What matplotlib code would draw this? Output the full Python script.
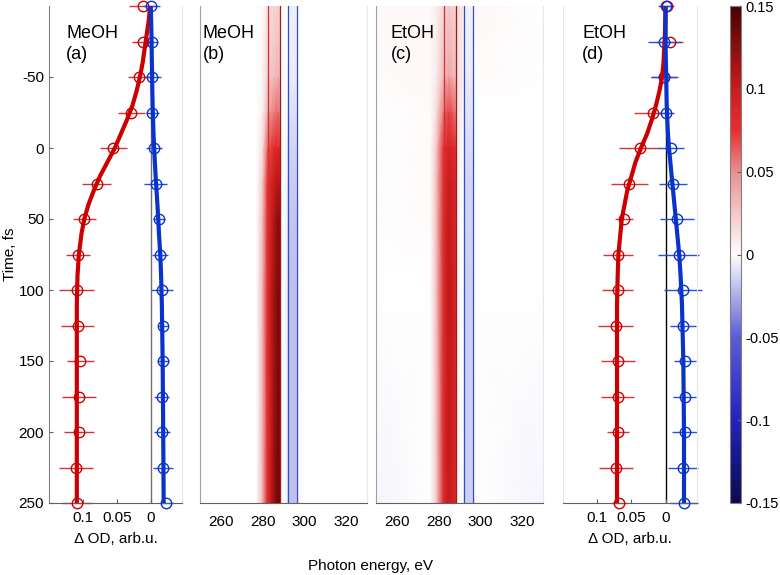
import matplotlib
matplotlib.use("Agg")
import matplotlib.pyplot as plt
import numpy as np
from matplotlib.colors import LinearSegmentedColormap

plt.rcParams['font.family'] = ['Liberation Sans', 'DejaVu Sans']
plt.rcParams['axes.unicode_minus'] = False

# delay times of the measured points, fs
t = [-100, -75, -50, -25, 0, 25, 50, 75, 100, 125, 150, 175, 200, 225, 250]

# MeOH (a): red = positive band, blue = negative band (plotted as -OD to the right)
a_red = [0.012, 0.012, 0.017, 0.029, 0.055, 0.080, 0.098, 0.107, 0.109, 0.108, 0.104, 0.106, 0.106, 0.110, 0.109]
a_red_err = [0.020, 0.015, 0.016, 0.020, 0.020, 0.022, 0.017, 0.018, 0.026, 0.024, 0.020, 0.025, 0.022, 0.025, 0.022]
a_blue = [-0.001, -0.002, -0.0025, -0.0025, -0.005, -0.007, -0.012, -0.014, -0.017, -0.018, -0.018, -0.016, -0.016, -0.018, -0.023]
a_blue_err = [0.013, 0.009, 0.012, 0.010, 0.012, 0.017, 0.009, 0.012, 0.016, 0.008, 0.009, 0.011, 0.012, 0.015, 0.010]

# EtOH (d)
d_red = [-0.002, -0.006, 0.002, 0.019, 0.038, 0.053, 0.061, 0.069, 0.070, 0.073, 0.069, 0.070, 0.069, 0.072, 0.068]
d_red_err = [0.010, 0.020, 0.020, 0.027, 0.030, 0.027, 0.013, 0.022, 0.023, 0.026, 0.025, 0.024, 0.016, 0.025, 0.012]
d_blue = [0.0, 0.002, 0.002, 0.0, -0.008, -0.011, -0.017, -0.019, -0.025, -0.026, -0.028, -0.028, -0.028, -0.025, -0.027]
d_blue_err = [0.011, 0.024, 0.019, 0.013, 0.019, 0.020, 0.025, 0.030, 0.028, 0.019, 0.016, 0.017, 0.018, 0.022, 0.020]

# fitted curves
fit_t = [-100, -90, -80, -70, -60, -50, -40, -30, -20, -10, 0, 10, 20, 30, 40, 50, 60, 75, 90, 110, 150, 200, 250]
a_red_fit = [0.001, 0.003, 0.006, 0.009, 0.012, 0.016, 0.021, 0.027, 0.035, 0.044, 0.053, 0.064, 0.075, 0.084,
             0.092, 0.098, 0.102, 0.106, 0.108, 0.109, 0.109, 0.109, 0.109]
a_blue_fit = [0.0, -0.0005, -0.001, -0.0013, -0.0016, -0.002, -0.0023, -0.0027, -0.0033, -0.004, -0.005, -0.006,
              -0.0072, -0.0085, -0.0098, -0.011, -0.012, -0.014, -0.0152, -0.0163, -0.0175, -0.0183, -0.019]
d_red_fit = [0.0, 0.0005, 0.001, 0.002, 0.003, 0.005, 0.009, 0.014, 0.020, 0.027, 0.036, 0.044, 0.050, 0.056,
             0.060, 0.064, 0.066, 0.069, 0.070, 0.071, 0.071, 0.071, 0.071]
d_blue_fit = [0.0, 0.0, 0.0, 0.0, -0.0005, -0.001, -0.0013, -0.0017, -0.0025, -0.0035, -0.005, -0.007, -0.009,
              -0.011, -0.013, -0.015, -0.017, -0.020, -0.022, -0.024, -0.026, -0.027, -0.027]

# transient spectra maps (b) MeOH and (c) EtOH, rows = times, columns = photon energy nodes
map_t = [-100, -50, -25, 0, 25, 50, 100, 250]
b_E = [250, 277, 280, 282.3, 283.5, 285.5, 287.3, 288.4, 289.2, 291.5, 292.5, 296.2, 297.5, 330]
b_map = [
    [0, 0, 0.002, 0.012, 0.015, 0.018, 0.020, 0.018, 0, 0, -0.005, -0.005, 0, 0],
    [0, 0, 0.004, 0.020, 0.025, 0.030, 0.035, 0.030, 0, 0, -0.007, -0.007, 0, 0],
    [0, 0, 0.008, 0.035, 0.045, 0.055, 0.060, 0.050, 0, -0.001, -0.010, -0.010, 0, 0],
    [0, 0, 0.016, 0.060, 0.070, 0.080, 0.085, 0.075, 0, -0.002, -0.013, -0.013, 0, 0],
    [0, 0, 0.025, 0.075, 0.085, 0.100, 0.110, 0.100, 0, -0.003, -0.016, -0.016, 0, 0],
    [0, 0, 0.030, 0.080, 0.090, 0.110, 0.125, 0.120, 0, -0.003, -0.018, -0.018, 0, 0],
    [0, 0, 0.035, 0.085, 0.095, 0.115, 0.130, 0.125, 0, -0.003, -0.019, -0.019, 0, 0],
    [0, 0, 0.035, 0.085, 0.095, 0.120, 0.135, 0.130, 0, -0.003, -0.019, -0.019, 0, 0],
]
c_E = [250, 276, 279, 282.3, 283.5, 285, 286.5, 288.3, 289, 291.8, 292.5, 296.2, 297.5, 330]
c_map = [
    [0.003, 0.003, 0.008, 0.018, 0.020, 0.022, 0.020, 0.020, 0.015, 0.010, -0.004, -0.004, 0.003, 0],
    [0.002, 0.003, 0.010, 0.030, 0.035, 0.040, 0.035, 0.030, 0.015, 0.008, -0.006, -0.006, 0.002, 0],
    [0, 0.002, 0.016, 0.055, 0.065, 0.070, 0.065, 0.055, 0.010, 0.005, -0.009, -0.009, 0, 0],
    [0, 0.002, 0.025, 0.075, 0.085, 0.090, 0.085, 0.075, 0.008, 0.003, -0.011, -0.011, 0, 0],
    [0, 0.002, 0.030, 0.080, 0.090, 0.100, 0.095, 0.085, 0.006, 0, -0.013, -0.013, 0, 0],
    [0, 0.002, 0.030, 0.085, 0.095, 0.100, 0.095, 0.085, 0.005, 0, -0.014, -0.014, 0, 0],
    [0, 0.001, 0.030, 0.085, 0.095, 0.105, 0.100, 0.085, 0.005, 0, -0.015, -0.015, 0, 0],
    [-0.003, 0, 0.025, 0.085, 0.095, 0.100, 0.095, 0.085, 0.005, 0, -0.015, -0.015, 0, -0.003],
]
# integration limits drawn as lines
red_lines = [282.4, 288.5]
blue_lines = [292.3, 296.4]

cb_ticks = [0.15, 0.1, 0.05, 0, -0.05, -0.1, -0.15]
cb_labels = ['0.15', '0.1', '0.05', '0', '-0.05', '-0.1', '-0.15']

cmap = LinearSegmentedColormap.from_list('bwr_m', [
    (0.0, '#0a0a50'), (1/6, '#2222c0'), (2/6, '#5c5cd6'), (0.5, '#ffffff'),
    (4/6, '#e89090'), (0.75, '#e63030'), (5/6, '#cc1c1c'), (1.0, '#4a0000')])

RED = '#cc0000'
BLUE = '#0a33cc'
EBAR_R = '#dd3030'
EBAR_B = '#2050dd'
FS = 11

fig = plt.figure(figsize=(7.8, 5.75), dpi=100)
W, H = 780, 575


def px_axes(x0, x1, y0=6, y1=503):
    return fig.add_axes([x0 / W, 1 - y1 / H, (x1 - x0) / W, (y1 - y0) / H])


def style(ax, left='#808080'):
    ax.spines['top'].set_visible(False)
    ax.spines['right'].set_color('#e8e8e8')
    ax.spines['left'].set_color(left)
    ax.spines['bottom'].set_color('#606060')
    ax.tick_params(direction='in', labelsize=FS, length=3, color='#606060')
    ax.tick_params(axis='x', pad=6)
    ax.set_ylim(250, -100)


def kinetics(ax, red, red_err, blue, blue_err, red_fit, blue_fit, zero_col):
    ax.axvline(0, color=zero_col, lw=1.0, zorder=1)
    ax.errorbar(red, t, xerr=red_err, fmt='none', ecolor=EBAR_R, elinewidth=1.0, capsize=0, clip_on=False, zorder=2)
    ax.errorbar(blue, t, xerr=blue_err, fmt='none', ecolor=EBAR_B, elinewidth=1.0, capsize=0, clip_on=False, zorder=2)
    ax.plot(red, t, 'o', mfc='none', mec=RED, ms=7.5, mew=1.0, clip_on=False, zorder=3)
    ax.plot(blue, t, 'o', mfc='none', mec=BLUE, ms=7.5, mew=1.0, clip_on=False, zorder=3)
    ax.plot(red_fit, fit_t, color=RED, lw=3.0, solid_capstyle='butt', zorder=4)
    ax.plot(blue_fit, fit_t, color=BLUE, lw=3.0, solid_capstyle='butt', zorder=4)
    ax.set_xlim(0.15, -0.046)
    ax.set_xticks([0.1, 0.05, 0])
    ax.set_xticklabels(['0.1', '0.05', '0'])
    ax.set_xlabel('Δ OD, arb.u.', fontsize=FS, labelpad=5)


# (a)
ax_a = px_axes(49, 182)
style(ax_a)
kinetics(ax_a, a_red, a_red_err, a_blue, a_blue_err, a_red_fit, a_blue_fit, '#707070')
ax_a.set_yticks([-50, 0, 50, 100, 150, 200, 250])
ax_a.set_yticklabels(['-50', '0', '50', '100', '150', '200', '250'])
ax_a.set_ylabel('Time, fs', fontsize=FS, labelpad=1)
ax_a.text(0.128, 0.962, 'MeOH\n(a)', transform=ax_a.transAxes, fontsize=13, va='top', ha='left', linespacing=1.3)

# (b), (c)
for x0, E, M, lab, tx in [(200, b_E, b_map, 'MeOH\n(b)', 0.016), (376, c_E, c_map, 'EtOH\n(c)', 0.088)]:
    ax = px_axes(x0, x0 + 167)
    style(ax, left='#a0a0a0')
    ax.pcolormesh(E, map_t, np.array(M), cmap=cmap, vmin=-0.15, vmax=0.15, shading='gouraud')
    for e, c in zip(red_lines, ['#d83030', '#a01818']):
        ax.axvline(e, color=c, lw=0.9)
    for e in blue_lines:
        ax.axvline(e, color='#3050c0', lw=0.9)
    ax.set_xlim(250, 330)
    ax.set_ylim(250, -100)
    ax.set_xticks([260, 280, 300, 320])
    ax.set_yticks([])
    ax.tick_params(axis='x', length=0, pad=9)
    ax.text(tx, 0.962, lab, transform=ax.transAxes, fontsize=13, va='top', ha='left', linespacing=1.3)

fig.text(371 / W, 1 - 566 / H, 'Photon energy, eV', fontsize=FS, ha='center', va='center')

# (d)
ax_d = px_axes(563, 697)
style(ax_d, left='#e8e8e8')
kinetics(ax_d, d_red, d_red_err, d_blue, d_blue_err, d_red_fit, d_blue_fit, 'black')
ax_d.set_yticks([])
ax_d.text(0.144, 0.962, 'EtOH\n(d)', transform=ax_d.transAxes, fontsize=13, va='top', ha='left', linespacing=1.3)

# colorbar
cax = px_axes(730, 741)
sm = plt.cm.ScalarMappable(cmap=cmap, norm=plt.Normalize(-0.15, 0.15))
cb = fig.colorbar(sm, cax=cax)
cb.set_ticks(cb_ticks)
cb.set_ticklabels(cb_labels)
cb.outline.set_edgecolor('#808080')
cb.outline.set_linewidth(0.8)
cax.tick_params(direction='in', length=3, labelsize=10.5, color='#606060', pad=3)

fig.savefig('out.png', dpi=100)
